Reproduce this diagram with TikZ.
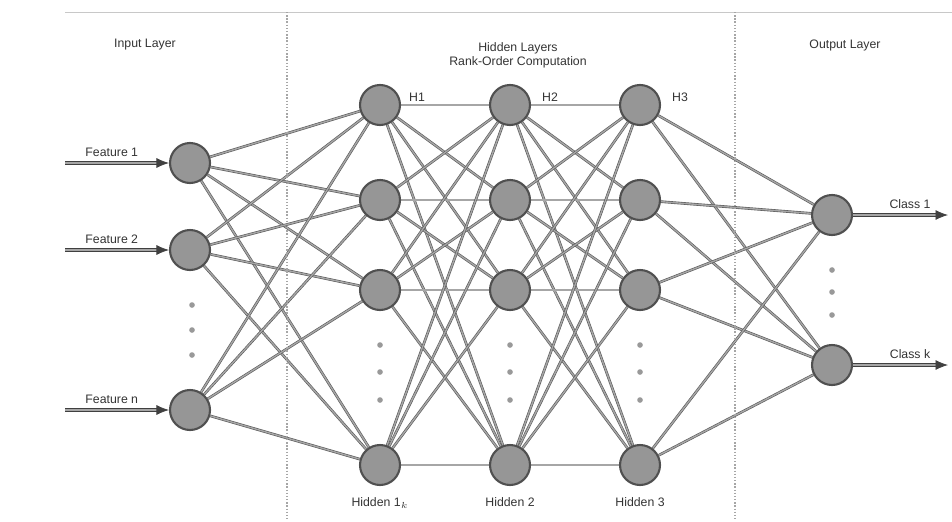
\documentclass[tikz,border=0pt]{standalone}
\usepackage{fontspec}
\setmainfont{Liberation Sans}
\usetikzlibrary{arrows.meta,positioning,backgrounds}
\definecolor{neurongray}{RGB}{150,150,150}
\definecolor{rimgray}{RGB}{80,80,80}
\definecolor{framegray}{RGB}{200,200,200}

\begin{document}
\begin{tikzpicture}[x=0.02cm,y=-0.02cm,
    neuron/.style={circle,draw=rimgray,fill=neurongray,very thick,minimum size=0.8cm,inner sep=0pt},
    link/.style={draw=black!65,double=gray!70,double distance=0.8pt,line width=0.35pt},
    feed/.style={draw=black!75,double=gray!70,double distance=1.2pt,line width=0.45pt,
      -{Latex[length=2.5mm,width=2mm]}},
    title/.style={font=\scriptsize,align=center,text=black!80},
    lbl/.style={font=\scriptsize,text=black!80},
    sep/.style={draw=gray!70,densely dotted,thick},
    dot/.style={fill=gray!80}
  ]
    \useasboundingbox (0,0) rectangle (952,521);

    % frame and layer separators
    \coordinate (topleft) at (65,12);
    \coordinate (topright) at (952,12);
    \draw[framegray] (topleft) -- (topright);
    \coordinate (sepa) at (287,12);
    \coordinate (sepab) at (287,521);
    \coordinate (sepb) at (735,12);
    \coordinate (sepbb) at (735,521);
    \draw[sep] (sepa) -- (sepab);
    \draw[sep] (sepb) -- (sepbb);

    % layer titles
    \node[title] (intitle) at (145,45) {Input Layer};
    \node[title] (hidtitle) at (518,55) {Hidden Layers\\Rank-Order Computation};
    \node[title] (outtitle) at (845,45) {Output Layer};

    % input neurons
    \node[neuron] (in1) at (190,163) {};
    \node[neuron] (in2) at (190,250) {};
    \node[neuron] (in3) at (190,410) {};

    % hidden neurons
    \foreach \c/\x in {1/380,2/510,3/640}
      \foreach \r/\y in {1/105,2/200,3/290,4/465}
        \node[neuron] (h\c\r) at (\x,\y) {};

    % output neurons
    \node[neuron] (out1) at (832,215) {};
    \node[neuron] (out2) at (832,365) {};

    % ellipses
    \foreach \y in {305,330,355} \fill[dot] (192,\y) circle (1.6pt);
    \foreach \x in {380,510,640}
      \foreach \y in {345,372,400} \fill[dot] (\x,\y) circle (1.6pt);
    \foreach \y in {270,292,315} \fill[dot] (832,\y) circle (1.6pt);

    % connections
    \begin{scope}[on background layer]
      \foreach \i in {1,2,3}
        \foreach \r in {1,...,4}
          \draw[link] (in\i) -- (h1\r);
      \foreach \c/\n in {1/2,2/3}
        \foreach \a in {1,...,4}
          \foreach \b in {1,...,4}
            \draw[link] (h\c\a) -- (h\n\b);
      \foreach \r in {1,...,4}
        \foreach \o in {1,2}
          \draw[link] (h3\r) -- (out\o);
    \end{scope}

    % hidden labels
    \node[lbl,anchor=west] (lh1) at (403,97) {H1};
    \node[lbl,anchor=west] (lh2) at (536,97) {H2};
    \node[lbl,anchor=west] (lh3) at (666,97) {H3};
    \node[lbl,below=3pt of h14] (lb1) {Hidden 1$_k$};
    \node[lbl,below=3pt of h24] (lb2) {Hidden 2};
    \node[lbl,below=3pt of h34] (lb3) {Hidden 3};

    % inputs
    \coordinate (f1) at (65,163);
    \coordinate (f2) at (65,250);
    \coordinate (f3) at (65,410);
    \draw[feed] (f1) -- node[lbl,above,pos=0.45] {Feature 1} (in1);
    \draw[feed] (f2) -- node[lbl,above,pos=0.45] {Feature 2} (in2);
    \draw[feed] (f3) -- node[lbl,above,pos=0.45] {Feature n} (in3);

    % outputs
    \coordinate (c1) at (948,215);
    \coordinate (c2) at (948,365);
    \draw[feed] (out1) -- node[lbl,above,pos=0.6] {Class 1} (c1);
    \draw[feed] (out2) -- node[lbl,above,pos=0.6] {Class k} (c2);
  \end{tikzpicture}
\end{document}
